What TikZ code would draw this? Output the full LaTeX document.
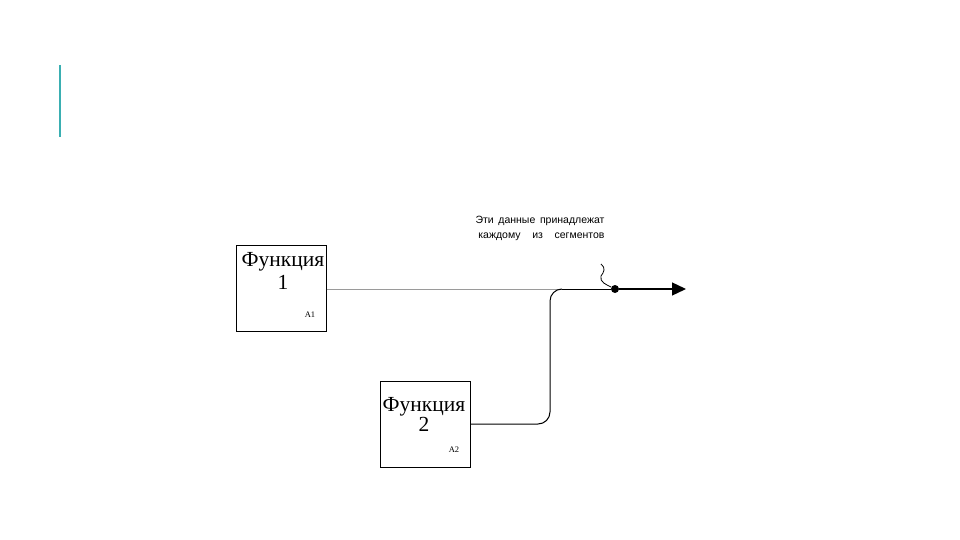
\documentclass[tikz,border=0pt]{standalone}
\usepackage{fontspec}
\setmainfont{Liberation Serif}
\newfontfamily\labelfont{Liberation Sans}
\usetikzlibrary{arrows.meta}
\definecolor{AccentTeal}{HTML}{3AAFB2}
\definecolor{LineGray}{HTML}{9A9A9A}
\tikzset{
  funcbox/.style={draw, line width=1pt, minimum width=90pt, minimum height=86pt, inner sep=0pt},
  functext/.style={align=center, anchor=north, inner sep=0pt},
  numtext/.style={font=\fontsize{8.5}{8.5}\selectfont, inner sep=0pt},
  notetext/.style={font=\labelfont\fontsize{10.5}{10.5}\selectfont, align=center, inner sep=0pt},
}
\begin{document}
\begin{tikzpicture}[x=1pt, y=-1pt]
      \useasboundingbox (0,0) rectangle (960,540);
      % Accent bar
      \draw[AccentTeal, line width=2pt] (60,65) -- (60,137);
      % Boxes
      \node[funcbox] (f1) at (281,288) {};
      \node[funcbox] (f2) at (425.5,424) {};
      \node[functext, font=\fontsize{21.5}{23}\selectfont] (f1name) at (283,252)
      {Функция\\1};
      \node[numtext] (f1code) at (310,315) {A1};
      \node[functext, font=\fontsize{21.5}{15}\selectfont] (f2name) at (424,397)
      {Функция\\2};
      \node[numtext] (f2code) at (454,450) {A2};
      % Arrows
      \coordinate (join) at (562,289);
      \coordinate (tip) at (686,289);
      \node[circle, fill, inner sep=0pt, minimum size=8pt] (dot) at (615,289) {};
      \draw[LineGray, line width=0.8pt] (f1.east |- join) -- (join);
      \draw[line width=1pt, rounded corners=12pt] (f2.east) -- (550,424) -- (550,289) -- (join);
      \draw[line width=1pt] (join) -- (dot);
      \draw[line width=1.3pt, -{Triangle[length=14pt, width=13pt]}] (dot) -- (tip);
      % Label
      \node[notetext] (note) at (540,228.5)
      {Эти \,данные \,принадлежат\\[5pt] \ каждому \ \ \ из \ \ \ сегментов};
      \draw[line width=0.8pt] (601,264) .. controls (606,268) and (604,272) .. (601,276)
      .. controls (599,282) and (607,285) .. (dot);
    \end{tikzpicture}
\end{document}
